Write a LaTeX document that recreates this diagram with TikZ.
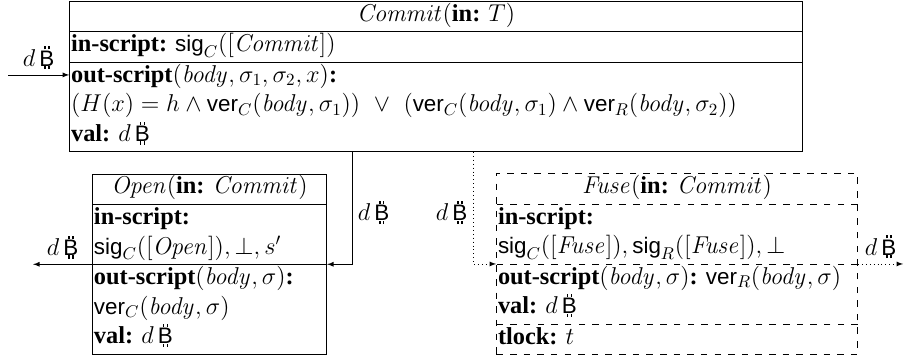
\RequirePackage{fix-cm}
\documentclass[tikz,border=0pt]{standalone}
\usepackage{amsmath}
\usepackage{amssymb}
\usepackage[no-math]{fontspec}
\setmainfont{Liberation Serif}
\setsansfont{Liberation Sans}[Scale=0.92]
\usetikzlibrary{shapes, arrows, positioning}
\frenchspacing
\newcommand{\rs}{\rule[-6.1pt]{0pt}{18.3pt}}
\newcommand{\btcbar}{\rlap{\rule[-0.13em]{0.06em}{0.13em}}\rule[0.68em]{0.06em}{0.13em}}
\newcommand{\btc}{\makebox[0pt][l]{\hspace{0.2em}\btcbar\hspace{0.1em}\btcbar}\textsf{B}}
\newcommand{\coin}{$d\,$\btc}
\tikzstyle{txbox} = [rectangle split, rectangle split parts=3, draw=black, inner xsep=1pt, inner ysep=0pt, align=left]
\tikzstyle{fusebox} = [txbox, rectangle split parts=4, dash pattern=on 4pt off 4.4pt]
\tikzstyle{arrow} = [->,>=latex]
\tikzstyle{dotarrow} = [arrow, dotted]
\begin{document}
\begin{tikzpicture}[node distance = 115.5pt, font=\fontsize{15}{18.3}\selectfont]
\useasboundingbox (-268.6pt,-173.4pt) rectangle (288.3pt,47.1pt);
\node (commit) [txbox, text width=449.6pt] {\rs\hfill$\mathit{Commit}(\textbf{in:}\ T)$\hfill\mbox{}
  \nodepart{two}\rs\textbf{in-script:} $\textsf{sig}_C([\mathit{Commit}])$
  \nodepart{three}\rs\textbf{out-script}$(\mathit{body},\sigma_1,\sigma_2,x)$\textbf{:}\\
  \rs$(H(x)=h\wedge\textsf{ver}_C(\mathit{body},\sigma_1))\ \vee\ (\textsf{ver}_C(\mathit{body},\sigma_1)\wedge\textsf{ver}_R(\mathit{body},\sigma_2))$\\
  \rs\textbf{val:} \coin};
\node (open) [txbox, text width=142.4pt, below of=commit, xshift=-139.5pt] {\rs\hfill$\mathit{Open}(\textbf{in:}\ \mathit{Commit})$\hfill\mbox{}
  \nodepart{two}\rs\textbf{in-script:}\\
  \rs$\textsf{sig}_C([\mathit{Open}]),\bot,s'$
  \nodepart{three}\rs\textbf{out-script}$(\mathit{body},\sigma)$\textbf{:}\\
  \rs$\textsf{ver}_C(\mathit{body},\sigma)$\\
  \rs\textbf{val:} \coin};
\node (fuse) [fusebox, text width=220.6pt, below of=commit, xshift=148.5pt] {\rs\hfill$\mathit{Fuse}(\textbf{in:}\ \mathit{Commit})$\hfill\mbox{}
  \nodepart{two}\rs\textbf{in-script:}\\
  \rs$\textsf{sig}_C([\mathit{Fuse}]),\textsf{sig}_R([\mathit{Fuse}]),\bot$
  \nodepart{three}\rs\mbox{\textbf{out-script}$(\mathit{body},\sigma)$\textbf{:} $\textsf{ver}_R(\mathit{body},\sigma)$}\\
  \rs\textbf{val:} \coin
  \nodepart{four}\rs\textbf{tlock:} $t$};
\coordinate (cin) at ([yshift=-8pt, xshift=-37.6pt]commit.two split west);
\coordinate (oout) at ([xshift=-36.3pt]open.two split west);
\coordinate (fout) at ([xshift=27.7pt]fuse.two split east);
\draw [arrow] (cin) -- node [above] {\coin} ([yshift=-8pt]commit.two split west);
\draw [arrow] ([xshift=15.4pt]open.two split east |- commit.south) |- node [pos=0.27, right] {\coin} (open.two split east);
\draw [dotarrow] ([xshift=-14.2pt]fuse.two split west |- commit.south) |- node [pos=0.27, left] {\coin} (fuse.two split west);
\draw [arrow] (open.two split west) -- node [above] {\coin} (oout);
\draw [dotarrow] (fuse.two split east) -- node [above] {\coin} (fout);
\end{tikzpicture}
\end{document}
